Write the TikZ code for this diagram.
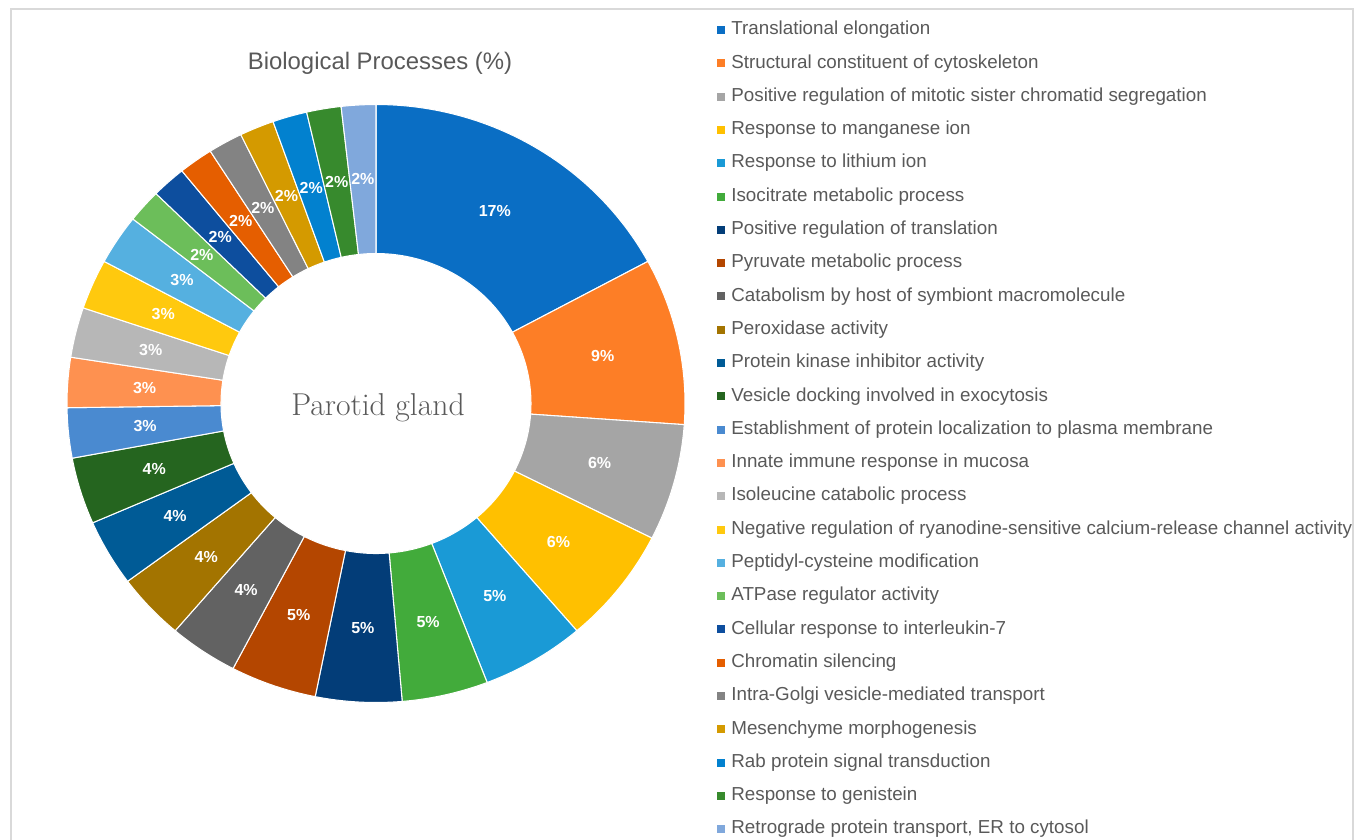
\documentclass[tikz,border=0pt]{standalone}
\usepackage{fontspec}
\newfontfamily\arialfont{Liberation Sans}
% segment colours
\definecolor{elong}{RGB}{10,110,196}
\definecolor{cytoskel}{RGB}{253,126,38}
\definecolor{mitotic}{RGB}{165,165,165}
\definecolor{mangan}{RGB}{255,192,0}
\definecolor{lithium}{RGB}{26,154,214}
\definecolor{isocit}{RGB}{66,171,59}
\definecolor{transl}{RGB}{3,61,120}
\definecolor{pyruv}{RGB}{180,70,0}
\definecolor{catab}{RGB}{98,98,98}
\definecolor{perox}{RGB}{163,116,0}
\definecolor{kinase}{RGB}{0,91,150}
\definecolor{vesicle}{RGB}{37,101,31}
\definecolor{plasma}{RGB}{74,138,208}
\definecolor{mucosa}{RGB}{254,145,80}
\definecolor{isoleu}{RGB}{183,183,183}
\definecolor{ryano}{RGB}{255,201,14}
\definecolor{peptid}{RGB}{85,176,224}
\definecolor{atpase}{RGB}{108,190,90}
\definecolor{ilseven}{RGB}{13,78,158}
\definecolor{chromat}{RGB}{229,94,0}
\definecolor{golgi}{RGB}{131,131,131}
\definecolor{mesench}{RGB}{212,154,0}
\definecolor{rab}{RGB}{2,129,207}
\definecolor{genist}{RGB}{55,138,45}
\definecolor{retro}{RGB}{128,168,220}
\definecolor{textgray}{RGB}{89,89,89}
\definecolor{framegray}{RGB}{217,217,217}
\tikzset{
  pct/.style={text=white, inner sep=0pt, font=\arialfont\bfseries\fontsize{9.1}{10}\selectfont},
  legtext/.style={anchor=base west, inner sep=0pt, text=textgray, font=\arialfont\fontsize{10.7}{12}\selectfont},
  keybox/.style={minimum size=0.16cm, inner sep=0pt},
  charttitle/.style={anchor=base, inner sep=0pt, text=textgray, font=\arialfont\fontsize{13.6}{15}\selectfont}
}
\begin{document}
\begin{tikzpicture}[x=0.02cm, y=-0.02cm]
\useasboundingbox (0,0) rectangle (1364,839);
% Chart frame
\draw[framegray, line width=0.6pt] (11,860) -- (11,9) -- (1353,9) -- (1353,860);
\node[charttitle] (title) at (380,69) {Biological Processes (\%)};
% Donut segments, 111 terms in all
\def\angA{90}
\foreach \n/\col/\lab [count=\i] in {19/elong/17, 10/cytoskel/9, 7/mitotic/6, 7/mangan/6, 6/lithium/5,
    5/isocit/5, 5/transl/5, 5/pyruv/5, 4/catab/4, 4/perox/4, 4/kinase/4, 4/vesicle/4,
    3/plasma/3, 3/mucosa/3, 3/isoleu/3, 3/ryano/3, 3/peptid/3,
    2/atpase/2, 2/ilseven/2, 2/chromat/2, 2/golgi/2, 2/mesench/2, 2/rab/2, 2/genist/2, 2/retro/2}{
  \pgfmathsetmacro\angB{\angA-\n*360/111}
  \pgfmathsetmacro\angM{(\angA+\angB)/2}
  \filldraw[fill=\col, draw=white, line width=0.6pt]
    ({376+309*cos(\angA)}, {403.5-299*sin(\angA)}) arc[start angle=\angA, end angle=\angB, x radius=6.18cm, y radius=5.98cm]
    -- ({376+155*cos(\angB)}, {403.5-150*sin(\angB)}) arc[start angle=\angB, end angle=\angA, x radius=3.1cm, y radius=3cm] -- cycle;
  \node[pct] (pct\i) at ({376+232*cos(\angM)}, {403.5-224.5*sin(\angM)}) {\lab\%};
  \xdef\angA{\angB}
}
\node[anchor=base, text=textgray, font=\fontsize{18}{21}\selectfont] (gland) at (378,415) {Parotid gland};
% Legend
\foreach \col/\txt [count=\i from 0] in {elong/Translational elongation,
    cytoskel/Structural constituent of cytoskeleton,
    mitotic/Positive regulation of mitotic sister chromatid segregation,
    mangan/Response to manganese ion,
    lithium/Response to lithium ion,
    isocit/Isocitrate metabolic process,
    transl/Positive regulation of translation,
    pyruv/Pyruvate metabolic process,
    catab/Catabolism by host of symbiont macromolecule,
    perox/Peroxidase activity,
    kinase/Protein kinase inhibitor activity,
    vesicle/Vesicle docking involved in exocytosis,
    plasma/Establishment of protein localization to plasma membrane,
    mucosa/Innate immune response in mucosa,
    isoleu/Isoleucine catabolic process,
    ryano/Negative regulation of ryanodine-sensitive calcium-release channel activity,
    peptid/Peptidyl-cysteine modification,
    atpase/ATPase regulator activity,
    ilseven/Cellular response to interleukin-7,
    chromat/Chromatin silencing,
    golgi/Intra-Golgi vesicle-mediated transport,
    mesench/Mesenchyme morphogenesis,
    rab/Rab protein signal transduction,
    genist/Response to genistein,
    retro/{Retrograde protein transport, ER to cytosol}}{
  \node[keybox, fill=\col] (key\i) at (721, 30+33.3*\i) {};
  \node[legtext] (leg\i) at (731, 34.7+33.3*\i) {\txt};
}
\end{tikzpicture}
\end{document}
